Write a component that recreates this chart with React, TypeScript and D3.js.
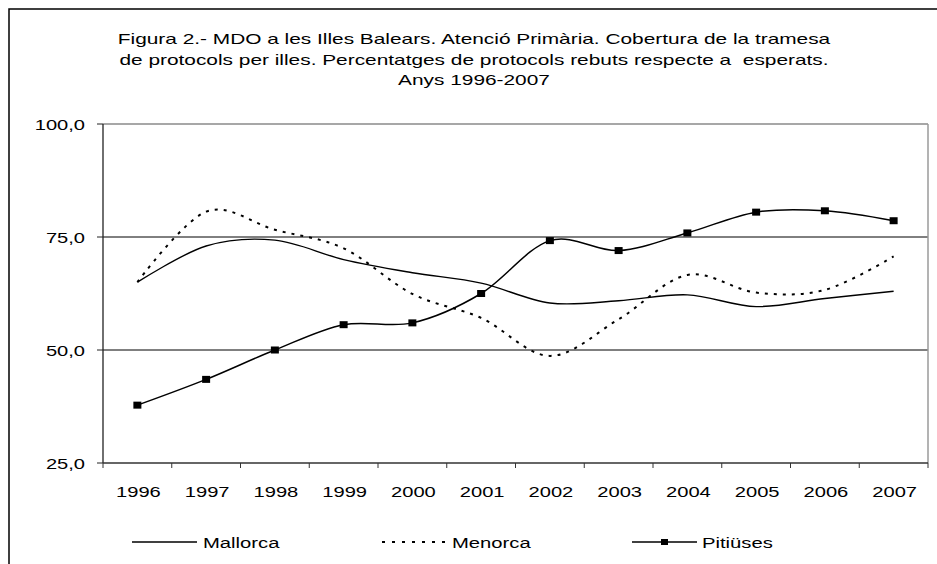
import React from "react";
import * as d3 from "d3";

const years = ["1996","1997","1998","1999","2000","2001","2002","2003","2004","2005","2006","2007"];
const mallorca = [65.0, 73.0, 74.3, 70.0, 67.1, 64.8, 60.4, 60.9, 62.2, 59.6, 61.4, 63.0];
const menorca = [65.0, 80.6, 76.6, 72.5, 62.4, 57.1, 48.7, 56.8, 66.6, 62.7, 63.3, 70.7];
const pitiuses = [37.8, 43.5, 50.0, 55.6, 56.0, 62.5, 74.2, 72.0, 75.9, 80.5, 80.8, 78.6];
const yTicks = [25, 50, 75, 100];
const titleLines = [
  "Figura 2.- MDO a les Illes Balears. Atenció Primària. Cobertura de la tramesa",
  "de protocols per illes. Percentatges de protocols rebuts respecte a  esperats.",
  "Anys 1996-2007",
];
const seriesNames = ["Mallorca", "Menorca", "Pitiüses"];

const W = 937, H = 564;
const L = 103, R = 928, T = 124, B = 463;
const FONT = "'Liberation Sans', Arial, sans-serif";

export default function App() {
  const x = d3.scaleBand<string>().domain(years).range([L, R]).padding(0);
  const cx = (i: number) => (x(years[i]) as number) + x.bandwidth() / 2;
  const y = d3.scaleLinear().domain([25, 100]).range([B, T]);
  const line = d3
    .line<number>()
    .x((_, i) => cx(i))
    .y((d) => y(d))
    .curve(d3.curveCardinal.tension(0));

  const fmt = (v: number) => v.toFixed(1).replace(".", ",");
  const boundaries = years.map((yr) => x(yr) as number).concat([R]);

  const stxt = (
    tx: number,
    ty: number,
    s: string,
    anchor: string,
    size: number,
    sx: number,
    key?: any
  ) => (
    <g key={key} transform={`translate(${tx},${ty}) scale(${sx},1)`}>
      <text
        x={0}
        y={0}
        textAnchor={anchor as any}
        fontSize={size}
        fontFamily={FONT}
        fill="#000"
        style={{ whiteSpace: "pre" }}
      >
        {s}
      </text>
    </g>
  );

  const legendY = 542;
  const legend = [
    { x0: 132, x1: 197, tx: 203 },
    { x0: 382, x1: 447, tx: 452 },
    { x0: 632, x1: 697, tx: 702 },
  ];

  return (
    <svg
      width={W}
      height={H}
      style={{ position: "absolute", left: 0, top: 0, background: "#fff" }}
    >
      <rect x={0} y={0} width={W} height={H} fill="#fff" />
      {/* outer chart border */}
      <rect x={9} y={9} width={W + 20} height={H + 20} fill="none" stroke="#000" strokeWidth={1.5} />

      {/* title */}
      {titleLines.map((t, i) => stxt(474, 44 + i * 20.5, t, "middle", 15, 1.39, "t" + i))}

      {/* gridlines */}
      {[50, 75].map((v) => (
        <line key={v} x1={L} x2={R} y1={y(v)} y2={y(v)} stroke="#000" strokeWidth={1} />
      ))}
      {/* plot border top & right */}
      <line x1={L} x2={R} y1={T} y2={T} stroke="#8a8a8a" strokeWidth={1.5} />
      <line x1={R} x2={R} y1={T} y2={B} stroke="#9a9a9a" strokeWidth={1.5} />

      {/* y axis */}
      <line x1={L} x2={L} y1={T} y2={B} stroke="#222" strokeWidth={1.3} />
      {yTicks.map((v) => (
        <g key={v}>
          <line x1={97} x2={L} y1={y(v)} y2={y(v)} stroke="#222" strokeWidth={1} />
          {stxt(85, y(v) + 6, fmt(v), "end", 15, 1.34)}
        </g>
      ))}

      {/* x axis */}
      <line x1={L} x2={R} y1={B} y2={B} stroke="#333" strokeWidth={1.5} />
      {boundaries.map((bx, i) => (
        <line key={i} x1={bx} x2={bx} y1={B} y2={B + 5} stroke="#333" strokeWidth={1} />
      ))}
      {years.map((yr, i) => stxt(cx(i) + 1, 497, yr, "middle", 15.5, 1.3, "y" + yr))}

      {/* series */}
      <path d={line(mallorca) || ""} fill="none" stroke="#000" strokeWidth={1.4} />
      <path
        d={line(menorca) || ""}
        fill="none"
        stroke="#000"
        strokeWidth={2}
        strokeDasharray="3,6"
      />
      <path d={line(pitiuses) || ""} fill="none" stroke="#000" strokeWidth={1.5} />
      {pitiuses.map((v, i) => (
        <rect key={i} x={cx(i) - 4} y={y(v) - 3.5} width={8} height={7} fill="#000" />
      ))}

      {/* legend */}
      <line x1={legend[0].x0} x2={legend[0].x1} y1={legendY} y2={legendY} stroke="#000" strokeWidth={1.4} />
      <line
        x1={legend[1].x0}
        x2={legend[1].x1}
        y1={legendY}
        y2={legendY}
        stroke="#000"
        strokeWidth={2}
        strokeDasharray="3,7"
      />
      <line x1={legend[2].x0} x2={legend[2].x1} y1={legendY} y2={legendY} stroke="#000" strokeWidth={1.5} />
      <rect x={(legend[2].x0 + legend[2].x1) / 2 - 3.5} y={legendY - 3} width={7} height={6} fill="#000" />
      {seriesNames.map((n, i) => stxt(legend[i].tx, 548, n, "start", 15, 1.35, "l" + i))}
    </svg>
  );
}
